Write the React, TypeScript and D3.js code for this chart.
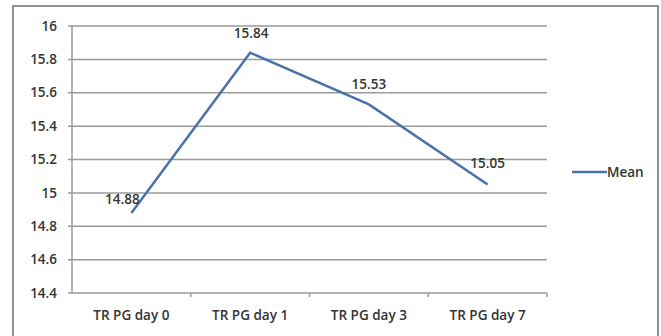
import React from "react";
import * as d3 from "d3";

const categories = ["TR PG day 0", "TR PG day 1", "TR PG day 3", "TR PG day 7"];
const meanValues = [14.88, 15.84, 15.53, 15.05];
const yTicks = [14.4, 14.6, 14.8, 15, 15.2, 15.4, 15.6, 15.8, 16];
const seriesName = "Mean";

export default function App() {
  const W = 661, H = 336;
  const left = 72, right = 547, top = 26, bottom = 293;
  const x = d3.scaleBand<string>().domain(categories).range([left, right]);
  const y = d3.scaleLinear().domain([14.4, 16]).range([bottom, top]);
  const cx = (i: number) => (x(categories[i]) as number) + x.bandwidth() / 2;
  const line = d3
    .line<number>()
    .x((_, i) => cx(i))
    .y((d) => y(d));
  const font = "'Open Sans', 'Liberation Sans', sans-serif";
  const textColor = "#333";
  const lineColor = "#4a72a8";
  const fs = 13.5;
  const labelOffsets = [
    { dx: -9, dy: -14 },
    { dx: 1, dy: -19 },
    { dx: 0, dy: -20 },
    { dx: 0, dy: -21 },
  ];
  return (
    <svg
      width={W}
      height={H}
      style={{ position: "absolute", left: 0, top: 0, background: "#fff" }}
      fontFamily={font}
    >
      <rect x={13} y={6} width={645} height={340} fill="#fff" stroke="#6e6e6e" strokeWidth={1.5} />
      {yTicks.map((t) => (
        <g key={t}>
          <line x1={left - 4} x2={right} y1={y(t)} y2={y(t)} stroke="#9a9a9a" strokeWidth={1.5} />
          <text
            x={57}
            y={y(t)}
            dy="0.35em"
            textAnchor="end"
            fontSize={fs}
            fill={textColor}
            fontWeight={600}
          >
            {String(t)}
          </text>
        </g>
      ))}
      <line x1={left} x2={left} y1={top} y2={bottom} stroke="#9a9a9a" strokeWidth={1.5} />
      {categories.map((c, i) => (
        <g key={c}>
          <line
            x1={(x(c) as number) + x.bandwidth()}
            x2={(x(c) as number) + x.bandwidth()}
            y1={bottom}
            y2={bottom + 4}
            stroke="#9a9a9a"
            strokeWidth={1.5}
          />
          <text
            x={cx(i)}
            y={bottom + 22}
            dy="0.35em"
            textAnchor="middle"
            fontSize={fs}
            fill={textColor}
            fontWeight={600}
          >
            {c}
          </text>
        </g>
      ))}
      <path d={line(meanValues) || ""} fill="none" stroke={lineColor} strokeWidth={2.5} />
      {meanValues.map((v, i) => (
        <text
          key={i}
          x={cx(i) + labelOffsets[i].dx}
          y={y(v) + labelOffsets[i].dy}
          dy="0.35em"
          textAnchor="middle"
          fontSize={fs}
          fill={textColor}
          fontWeight={600}
        >
          {v.toFixed(2)}
        </text>
      ))}
      <line x1={572} x2={607} y1={172} y2={172} stroke={lineColor} strokeWidth={2.5} />
      <text x={607} y={172} dy="0.35em" fontSize={fs} fill={textColor} fontWeight={600}>
        {seriesName}
      </text>
    </svg>
  );
}
